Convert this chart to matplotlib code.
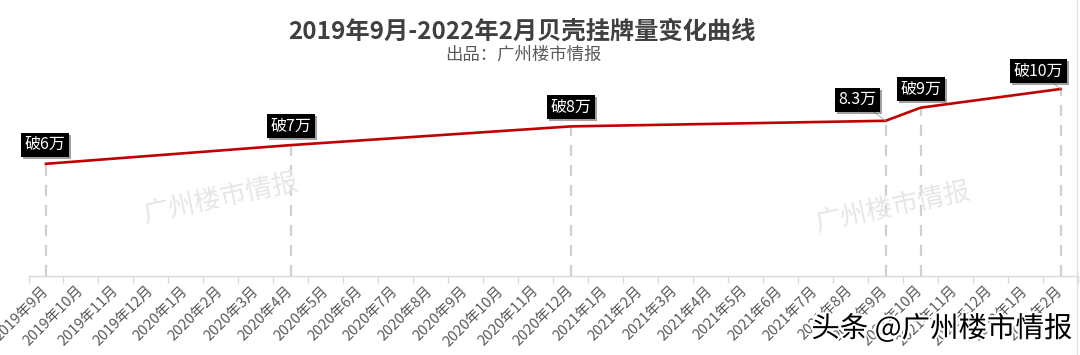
import matplotlib
matplotlib.use("Agg")
import matplotlib.pyplot as plt
import matplotlib.patheffects as pe
from matplotlib.lines import Line2D
import numpy as np

plt.rcParams['font.family'] = ['Noto Sans CJK SC', 'DejaVu Sans']

months = ['2019年9月', '2019年10月', '2019年11月', '2019年12月',
          '2020年1月', '2020年2月', '2020年3月', '2020年4月', '2020年5月', '2020年6月',
          '2020年7月', '2020年8月', '2020年9月', '2020年10月', '2020年11月', '2020年12月',
          '2021年1月', '2021年2月', '2021年3月', '2021年4月', '2021年5月', '2021年6月',
          '2021年7月', '2021年8月', '2021年9月', '2021年10月', '2021年11月', '2021年12月',
          '2022年1月', '2022年2月']
key_months = ['2019年9月', '2020年4月', '2020年12月', '2021年9月', '2021年10月', '2022年2月']
key_values = [6, 7, 8, 8.3, 9, 10]
key_labels = ['破6万', '破7万', '破8万', '8.3万', '破9万', '破10万']

title = '2019年9月-2022年2月贝壳挂牌量变化曲线'
subtitle = '出品：广州楼市情报'
watermark = '广州楼市情报'
corner_mark = '头条 @广州楼市情报'

W, H = 1080, 355
fig = plt.figure(figsize=(W / 100, H / 100), dpi=100)
fig.patch.set_facecolor('white')
ax = fig.add_axes([28.5 / W, 79 / H, (1078 - 28.5) / W, 205.7 / H])

xi = [months.index(m) for m in key_months]

# drop lines
ax.vlines(xi, 0, key_values, colors='#d0d0d0', linestyles=(0, (5, 4)), lw=1.6, zorder=1)
# main line
ax.plot(xi, key_values, color='#c00000', lw=1.9, zorder=3, solid_joinstyle='miter')

# labels
offsets = [(-1, 19), (0, 19), (0, 19.5), (-28, 21), (0, 18.5), (-22, 18)]
leader = [False, False, False, True, False, True]
for x, v, lab, off, ld in zip(xi, key_values, key_labels, offsets, leader):
    ap = dict(arrowstyle='-', color='#a6a6a6', lw=0.6, shrinkA=0, shrinkB=0) if ld else None
    t = ax.annotate(lab, xy=(x, v), xytext=(off[0] * 0.72, off[1] * 0.72),
                    textcoords='offset points', ha='center', va='center',
                    fontsize=11.5, color='white', zorder=5,
                    bbox=dict(boxstyle='square,pad=0.22', fc='black', ec='none'),
                    arrowprops=ap)
    t.get_bbox_patch().set_path_effects([
        pe.SimplePatchShadow(offset=(1.5, -1.5), shadow_rgbFace='#444444', alpha=0.5),
        pe.Normal()])

ax.set_xlim(-0.5, len(months) - 0.5)
ax.set_ylim(0, 11)
for s in ['top', 'right', 'left']:
    ax.spines[s].set_visible(False)
ax.spines['bottom'].set_color('#d9d9d9')
ax.spines['bottom'].set_linewidth(1.0)
ax.set_yticks([])
ax.set_xticks(range(len(months)))
ax.set_xticklabels(months, rotation=45, ha='right', va='center',
                   rotation_mode='anchor', fontsize=10.5, color='#595959')
ax.tick_params(axis='x', which='major', length=0, pad=9)
ax.set_xticks(np.arange(-0.5, len(months), 1.0), minor=True)
ax.tick_params(axis='x', which='minor', length=5, color='#d9d9d9', width=1.0)

# titles
fig.text(522 / W, 1 - 32 / H, title, ha='center', va='center', fontsize=17.5,
         fontweight='bold', color='#404040')
fig.text(523 / W, 1 - 55 / H, subtitle, ha='center', va='center', fontsize=12.5,
         color='#595959')

# watermarks
fig.text(221 / W, 1 - 198 / H, watermark, ha='center', va='center', fontsize=19,
         rotation=12, color='#e6e6e6', fontweight='medium', zorder=0)
fig.text(893 / W, 1 - 207 / H, watermark, ha='center', va='center', fontsize=19,
         rotation=12, color='#e6e6e6', fontweight='medium', zorder=0)

fig.text(942 / W, 1 - 329 / H, corner_mark, ha='center', va='center', fontsize=20.5,
         color='black', zorder=10,
         path_effects=[pe.withStroke(linewidth=3, foreground='white')])

# right frame edge
fig.add_artist(Line2D([1077 / W, 1077 / W], [0, 1], transform=fig.transFigure,
                      color='#e0e0e0', lw=1))

fig.savefig('out.png', dpi=100, facecolor='white')
